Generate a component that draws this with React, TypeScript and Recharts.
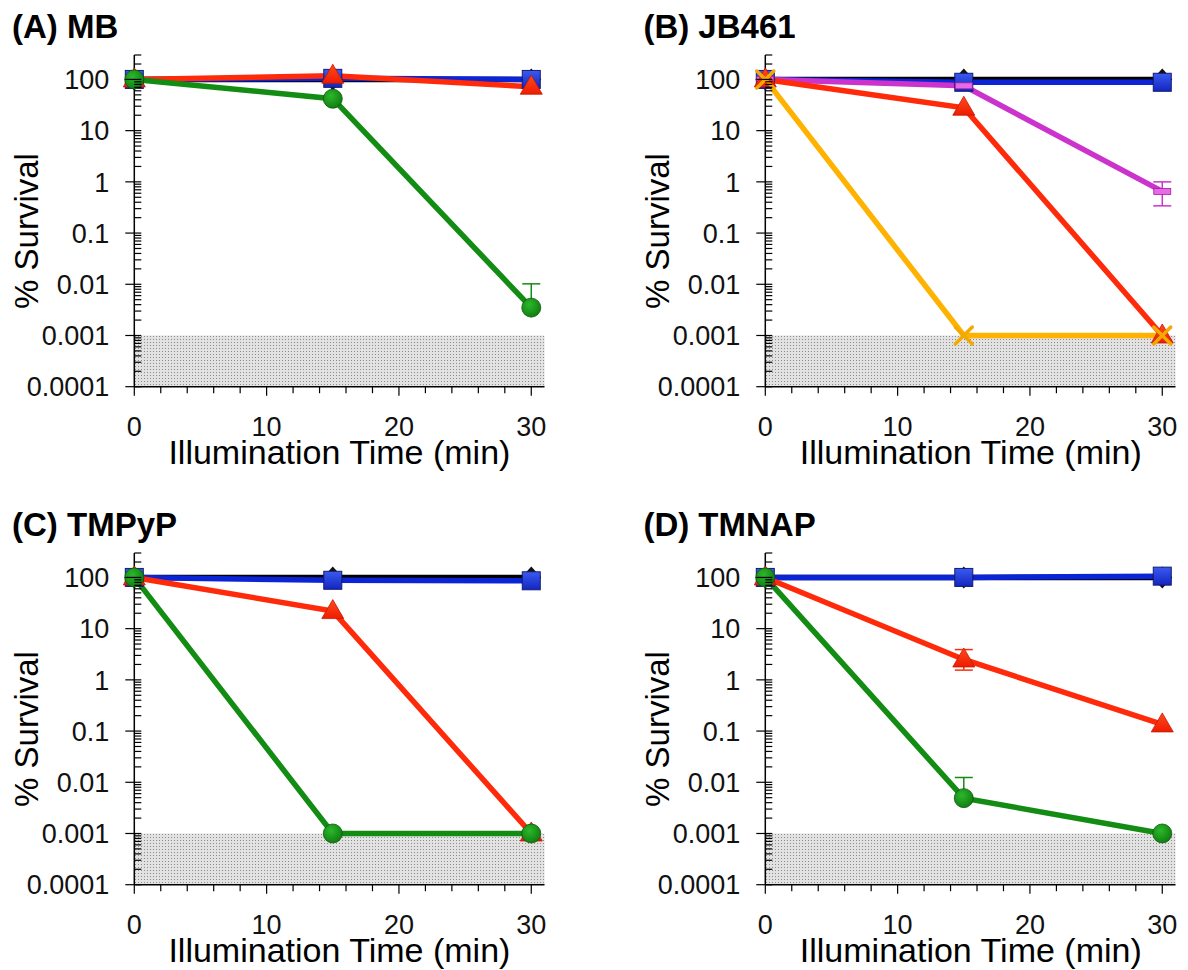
import React from "react";
import { LineChart, Line, XAxis, YAxis, ReferenceArea, ErrorBar } from "recharts";

const times = [0, 15, 30];

// (A) MB
const mbBlack = [100, 100, 100];
const mbBlue = [100, 105, 100];
const mbRed = [100, 118, 72];
const mbGreen = [100, 42, 0.0035];
const mbGreenErr = [null, null, [0, 0.0067]];

// (B) JB461
const jbBlack = [100, 100, 100];
const jbBlue = [100, 88, 88];
const jbMagenta = [100, 75, 0.65];
const jbMagentaErr = [null, null, [0.31, 0.35]];
const jbRed = [100, 28, 0.001];
const jbOrange = [100, 0.001, 0.001];

// (C) TMPyP
const tpBlack = [100, 100, 100];
const tpBlue = [100, 88, 86];
const tpRed = [100, 22, 0.001];
const tpGreen = [100, 0.001, 0.001];

// (D) TMNAP
const tnBlack = [100, 100, 100];
const tnBlue = [100, 100, 106];
const tnRed = [100, 2.5, 0.135];
const tnRedErr = [null, [0.95, 1.4], null];
const tnGreen = [100, 0.0049, 0.001];
const tnGreenErr = [null, [0, 0.0075], null];

const xTicks = [0, 2, 4, 6, 8, 10, 12, 14, 16, 18, 20, 22, 24, 26, 28, 30];
const xLabels = [0, 10, 20, 30];
const yDecades = [0.0001, 0.001, 0.01, 0.1, 1, 10, 100];
const yMinor = [
  ...yDecades.slice(0, -1).flatMap((d) => [2, 3, 4, 5, 6, 7, 8, 9].map((m) => +(m * d).toPrecision(3))),
  200, 300,
];
const yTicks = [...yDecades, ...yMinor].sort((a, b) => a - b);

// layout (px)
const PLOT_LEFT = 134.3;
const PLOT_TOP = 55;
const PLOT_W = 410.2;
const PLOT_H = 331.7;
const CHART_W = PLOT_LEFT + PLOT_W + 12;
const CHART_H = 470;
const COL2 = 631.4;
const ROW2 = 498;
const FONT = "'Liberation Sans', Arial, sans-serif";

const BLUE = "#0a24d6";
const RED = "#ff2a0a";
const GREEN = "#128c12";
const MAGENTA = "#cc33cc";
const ORANGE = "#ffb300";

const panels = [
  {
    title: "(A) MB", dx: 0, dy: 0,
    series: [
      { name: "black", values: mbBlack, color: "#000", marker: "diamond" },
      { name: "blue", values: mbBlue, color: BLUE, marker: "square" },
      { name: "red", values: mbRed, color: RED, marker: "triangle" },
      { name: "green", values: mbGreen, color: GREEN, marker: "circle", err: mbGreenErr },
    ],
  },
  {
    title: "(B) JB461", dx: COL2, dy: 0,
    series: [
      { name: "black", values: jbBlack, color: "#000", marker: "diamond" },
      { name: "blue", values: jbBlue, color: BLUE, marker: "square" },
      { name: "magenta", values: jbMagenta, color: MAGENTA, marker: "dash", err: jbMagentaErr },
      { name: "red", values: jbRed, color: RED, marker: "triangle" },
      { name: "orange", values: jbOrange, color: ORANGE, marker: "cross" },
    ],
  },
  {
    title: "(C) TMPyP", dx: 0, dy: ROW2,
    series: [
      { name: "black", values: tpBlack, color: "#000", marker: "diamond" },
      { name: "blue", values: tpBlue, color: BLUE, marker: "square" },
      { name: "red", values: tpRed, color: RED, marker: "triangle" },
      { name: "green", values: tpGreen, color: GREEN, marker: "circle" },
    ],
  },
  {
    title: "(D) TMNAP", dx: COL2, dy: ROW2,
    series: [
      { name: "black", values: tnBlack, color: "#000", marker: "diamond" },
      { name: "blue", values: tnBlue, color: BLUE, marker: "square" },
      { name: "red", values: tnRed, color: RED, marker: "triangle", err: tnRedErr },
      { name: "green", values: tnGreen, color: GREEN, marker: "circle", err: tnGreenErr },
    ],
  },
];

function Marker({ kind, cx, cy }: any) {
  if (cx == null || cy == null) return null;
  switch (kind) {
    case "diamond":
      return <polygon points={`${cx},${cy - 11} ${cx + 10},${cy} ${cx},${cy + 11} ${cx - 10},${cy}`} fill="#111" />;
    case "square":
      return <rect x={cx - 9} y={cy - 9} width={18} height={18} fill="url(#sqGrad)" stroke="#141c70" strokeWidth={1} />;
    case "triangle":
      return <polygon points={`${cx},${cy - 11.5} ${cx + 11},${cy + 7.5} ${cx - 11},${cy + 7.5}`} fill="url(#triGrad)" stroke="#c41800" strokeWidth={0.8} />;
    case "circle":
      return <circle cx={cx} cy={cy} r={9.5} fill="url(#cirGrad)" stroke="#0a5a0a" strokeWidth={0.8} />;
    case "dash":
      return <rect x={cx - 8.5} y={cy - 3} width={17} height={6} fill="#e868e8" stroke="#a020a0" strokeWidth={0.8} />;
    case "cross":
      return (
        <g stroke="#f2a900" strokeWidth={3.4} strokeLinecap="round">
          <line x1={cx - 8.5} y1={cy - 8.5} x2={cx + 8.5} y2={cy + 8.5} />
          <line x1={cx - 8.5} y1={cy + 8.5} x2={cx + 8.5} y2={cy - 8.5} />
        </g>
      );
    default:
      return null;
  }
}

const isMajor = (v: number) => {
  const l = Math.log10(v);
  return Math.abs(l - Math.round(l)) < 1e-6 && v <= 100;
};

function YTick({ x, y, payload }: any) {
  const v = payload.value;
  const major = isMajor(v);
  return (
    <g>
      <line x1={major ? x - 9 : x} x2={x + 7} y1={y} y2={y} stroke="#000" strokeWidth={1.2} />
      {major && (
        <text x={x - 25} y={y} dy="0.36em" textAnchor="end" fontSize={27} fontFamily={FONT} fill="#111">
          {String(v)}
        </text>
      )}
    </g>
  );
}

function XTick({ x, y, payload }: any) {
  const v = payload.value;
  const major = xLabels.includes(v);
  return (
    <g>
      <line x1={x} x2={x} y1={y} y2={y + (major ? 9 : 6.5)} stroke="#000" strokeWidth={1.2} />
      {major && (
        <text x={x} y={y + 49} textAnchor="middle" fontSize={27} fontFamily={FONT} fill="#111">
          {v}
        </text>
      )}
    </g>
  );
}

function Panel({ p }: any) {
  const data = times.map((t, i) => {
    const row: any = { t };
    p.series.forEach((s: any) => {
      row[s.name] = s.values[i];
      if (s.err && s.err[i]) row[s.name + "Err"] = s.err[i];
    });
    return row;
  });
  return (
    <div style={{ position: "absolute", left: p.dx, top: p.dy }}>
      <LineChart width={CHART_W} height={CHART_H} data={data}
        margin={{ top: PLOT_TOP, right: 12, left: 0, bottom: 0 }}>
        <XAxis dataKey="t" type="number" domain={[0, 31]} ticks={xTicks} interval={0}
          height={CHART_H - PLOT_TOP - PLOT_H} tick={<XTick />} tickLine={false} tickSize={0} tickMargin={0}
          axisLine={{ stroke: "#000", strokeWidth: 1.5 }} />
        <YAxis type="number" scale="log" domain={[0.0001, 300]} ticks={yTicks} interval={0}
          width={PLOT_LEFT} tick={<YTick />} tickLine={false} tickSize={0} tickMargin={0}
          axisLine={{ stroke: "#000", strokeWidth: 1.5 }} />
        <ReferenceArea x1={0} x2={31} y1={0.0001} y2={0.001} fill="url(#dots)" fillOpacity={1} stroke="none" />
        {p.series.map((s: any) => (
          <Line key={s.name} type="linear" dataKey={s.name} stroke={s.color} strokeWidth={5.5}
            isAnimationActive={false} activeDot={false}
            dot={(d: any) => <Marker key={`${s.name}-${d.index}`} kind={s.marker} cx={d.cx} cy={d.cy} />}>
            {s.err && <ErrorBar dataKey={s.name + "Err"} width={9} strokeWidth={1.5} stroke={s.color} direction="y" />}
          </Line>
        ))}
      </LineChart>
    </div>
  );
}

export default function App() {
  return (
    <div style={{ position: "absolute", left: 0, top: 0, width: 1188, height: 970, overflow: "hidden", background: "#fff" }}>
      <svg width={0} height={0} style={{ position: "absolute" }}>
        <defs>
          <pattern id="dots" width="3" height="3" patternUnits="userSpaceOnUse">
            <rect width="3" height="3" fill="#e2e2e2" />
            <rect width="1" height="1" fill="#8c8c8c" />
          </pattern>
          <linearGradient id="sqGrad" x1="0" y1="0" x2="0" y2="1">
            <stop offset="0%" stopColor="#3a5af0" />
            <stop offset="100%" stopColor="#1226c0" />
          </linearGradient>
          <linearGradient id="triGrad" x1="0" y1="0" x2="0" y2="1">
            <stop offset="0%" stopColor="#ff4a20" />
            <stop offset="100%" stopColor="#ee1c00" />
          </linearGradient>
          <radialGradient id="cirGrad" cx="0.4" cy="0.35" r="0.7">
            <stop offset="0%" stopColor="#2cb82c" />
            <stop offset="100%" stopColor="#0f7a0f" />
          </radialGradient>
        </defs>
      </svg>
      {panels.map((p) => <Panel key={p.title} p={p} />)}
      <svg width={1188} height={970} style={{ position: "absolute", left: 0, top: 0, pointerEvents: "none" }}>
        {panels.map((p) => (
          <g key={p.title} fontFamily={FONT} fill="#000">
            <text x={p.dx + 12} y={p.dy + 37.5} fontSize={33} fontWeight="bold">{p.title}</text>
            <text transform={`translate(${p.dx + 37.5},${p.dy + 231}) rotate(-90)`} textAnchor="middle" fontSize={33}>
              % Survival
            </text>
            <text x={p.dx + PLOT_LEFT + PLOT_W / 2} y={p.dy + 464} textAnchor="middle" fontSize={34}>
              Illumination Time (min)
            </text>
          </g>
        ))}
      </svg>
    </div>
  );
}
